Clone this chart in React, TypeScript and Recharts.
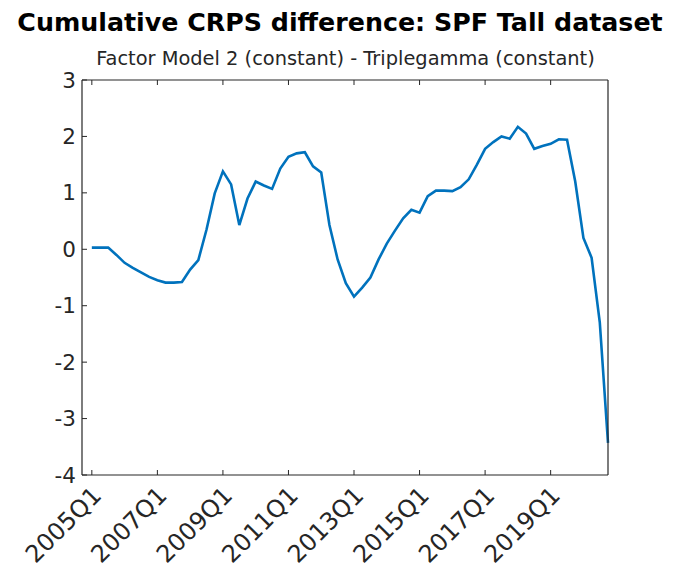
import { LineChart, Line, XAxis, YAxis } from 'recharts'

// cumulative CRPS difference, quarterly from 2005Q1 to 2020Q4
const crpsDiff = [
  0.03, 0.03, 0.03, -0.1, -0.24, -0.33, -0.41, -0.49,
  -0.55, -0.59, -0.59, -0.58, -0.36, -0.19, 0.35, 0.99,
  1.38, 1.15, 0.43, 0.9, 1.2, 1.13, 1.07, 1.43,
  1.64, 1.7, 1.72, 1.47, 1.36, 0.43, -0.18, -0.6,
  -0.84, -0.68, -0.5, -0.18, 0.1, 0.33, 0.55, 0.7,
  0.65, 0.94, 1.04, 1.04, 1.03, 1.1, 1.24, 1.5,
  1.78, 1.9, 2.0, 1.96, 2.17, 2.05, 1.78, 1.83,
  1.87, 1.95, 1.94, 1.2, 0.2, -0.15, -1.3, -3.43,
]

const xTickLabels = ['2005Q1', '2007Q1', '2009Q1', '2011Q1', '2013Q1', '2015Q1', '2017Q1', '2019Q1']
const xTickQuarters = [0, 8, 16, 24, 32, 40, 48, 56]
const yTicks = [-4, -3, -2, -1, 0, 1, 2, 3]

const data = crpsDiff.map((v, i) => ({ q: i, v }))

const AXIS = '#262626'
const FONT = '"DejaVu Sans", sans-serif'
const W = 677
const H = 577

function BottomTick({ x, y, payload }: any) {
  const label = xTickLabels[xTickQuarters.indexOf(payload.value)]
  const tx = x + 11
  const ty = y + 22
  return (
    <g>
      <line x1={x} y1={y} x2={x} y2={y - 5} stroke={AXIS} strokeWidth={1} />
      <text x={tx} y={ty} transform={`rotate(-45 ${tx} ${ty})`} textAnchor="end"
        fontSize={24} fill={AXIS} fontFamily={FONT}>{label}</text>
    </g>
  )
}

function TopTick({ x, y }: any) {
  return <line x1={x} y1={y} x2={x} y2={y + 5} stroke={AXIS} strokeWidth={1} />
}

function LeftTick({ x, y, payload }: any) {
  return (
    <g>
      <line x1={x} y1={y} x2={x + 5} y2={y} stroke={AXIS} strokeWidth={1} />
      <text x={x - 6} y={y + 7.5} textAnchor="end" fontSize={21.5} fill={AXIS} fontFamily={FONT}>
        {payload.value}
      </text>
    </g>
  )
}

function RightTick({ x, y }: any) {
  return <line x1={x} y1={y} x2={x - 5} y2={y} stroke={AXIS} strokeWidth={1} />
}

export default function App() {
  return (
    <div style={{ position: 'absolute', left: 0, top: 0, width: W, height: H, background: '#fff' }}>
      <LineChart width={W} height={H} data={data} margin={{ top: 0, right: 0, bottom: 0, left: 0 }}>
        <XAxis xAxisId="top" orientation="top" dataKey="q" type="number" domain={[-1.2, 63]}
          ticks={xTickQuarters} height={80} tickSize={0} tickMargin={0} tick={<TopTick />}
          axisLine={{ stroke: AXIS, strokeWidth: 1.2 }} tickLine={false} />
        <XAxis xAxisId="bottom" dataKey="q" type="number" domain={[-1.2, 63]}
          ticks={xTickQuarters} height={102} tickSize={0} tickMargin={0} tick={<BottomTick />}
          axisLine={{ stroke: AXIS, strokeWidth: 1.2 }} tickLine={false} interval={0} />
        <YAxis yAxisId="left" domain={[-4, 3]} ticks={yTicks} width={82} tickSize={0} tickMargin={0}
          tick={<LeftTick />} axisLine={{ stroke: AXIS, strokeWidth: 1.2 }} tickLine={false} interval={0} />
        <YAxis yAxisId="right" orientation="right" domain={[-4, 3]} ticks={yTicks} width={69}
          tickSize={0} tickMargin={0} tick={<RightTick />} axisLine={{ stroke: AXIS, strokeWidth: 1.2 }}
          tickLine={false} interval={0} />
        <Line xAxisId="bottom" yAxisId="left" type="linear" dataKey="v" stroke="#0072BD"
          strokeWidth={2.6} dot={false} isAnimationActive={false} />
      </LineChart>
      <svg width={W} height={H} style={{ position: 'absolute', left: 0, top: 0, pointerEvents: 'none' }}>
        <text x={340} y={31} textAnchor="middle" fontSize={25.3} fontWeight="bold" fill="#000" fontFamily={FONT}>
          Cumulative CRPS difference: SPF Tall dataset
        </text>
        <text x={345.5} y={65} textAnchor="middle" fontSize={19.4} fill={AXIS} fontFamily={FONT}>
          Factor Model 2 (constant) - Triplegamma (constant)
        </text>
      </svg>
    </div>
  )
}
